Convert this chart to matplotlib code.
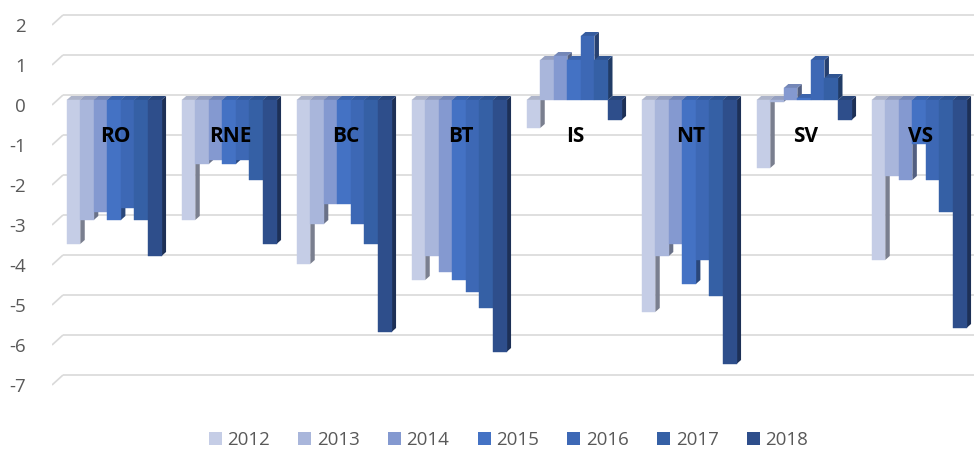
import matplotlib
matplotlib.use("Agg")
import matplotlib.pyplot as plt
from matplotlib.patches import Patch, Polygon
from matplotlib.colors import to_rgb
import numpy as np

plt.rcParams['font.family'] = ['Open Sans', 'DejaVu Sans']

# ---- data ----
regions = ["RO", "RNE", "BC", "BT", "IS", "NT", "SV", "VS"]
years = ["2012", "2013", "2014", "2015", "2016", "2017", "2018"]
v2012 = [-3.6, -3.0, -4.1, -4.5, -0.7, -5.3, -1.7, -4.0]
v2013 = [-3.0, -1.6, -3.1, -3.9, 1.0, -3.9, -0.05, -1.9]
v2014 = [-2.8, -1.5, -2.6, -4.3, 1.1, -3.6, 0.3, -2.0]
v2015 = [-3.0, -1.6, -2.6, -4.5, 1.0, -4.6, 0.05, -1.1]
v2016 = [-2.7, -1.5, -3.1, -4.8, 1.6, -4.0, 1.0, -2.0]
v2017 = [-3.0, -2.0, -3.6, -5.2, 1.0, -4.9, 0.55, -2.8]
v2018 = [-3.9, -3.6, -5.8, -6.3, -0.5, -6.6, -0.5, -5.7]
series = [v2012, v2013, v2014, v2015, v2016, v2017, v2018]
colors = ['#C5CDE6', '#A9B6DB', '#8499D0', '#4472C4', '#3D68B5', '#3560A5', '#2E4E8B']
yticks = [2, 1, 0, -1, -2, -3, -4, -5, -6, -7]

# ---- layout ----
W, H = 974, 450
fig = plt.figure(figsize=(W / 100, H / 100), dpi=100)
ax_left_px, ax_right_px = 52, 974
ax_top_px, ax_bot_px = 0, 404
ax = fig.add_axes([ax_left_px / W, 1 - ax_bot_px / H,
                   (ax_right_px - ax_left_px) / W, (ax_bot_px - ax_top_px) / H])
px_per_x = 13.55
px_per_y = 40.0
ax.set_xlim(0, (ax_right_px - ax_left_px) / px_per_x)
ax.set_ylim(-7.6, 2.5)
for s in ax.spines.values():
    s.set_visible(False)
ax.set_xticks([])

label_off = 5 / px_per_y     # tick labels sit below front plane
back_off = 5 / px_per_y      # back wall gridlines above front plane
slant = 11 / px_per_x

ax.set_yticks([t - label_off for t in yticks])
ax.set_yticklabels([str(t) for t in yticks], fontsize=13.5, color='#595959')
ax.tick_params(axis='y', length=0, pad=19)

xmax = ax.get_xlim()[1]
for t in yticks:
    ax.plot([0, slant], [t - label_off, t + back_off], color='#D9D9D9', lw=1.2,
            zorder=1, solid_capstyle='butt')
    ax.plot([slant, xmax], [t + back_off, t + back_off], color='#D9D9D9', lw=1.2,
            zorder=1, solid_capstyle='butt')

# 3D-ish bars
start0 = (66.7 - ax_left_px) / px_per_x
group_step = 115 / px_per_x
dx = 4.5 / px_per_x
dy = 4.0 / px_per_y
bw = 1.0

def shade(c, f):
    r, g, b = to_rgb(c)
    return (r * f, g * f, b * f)

for g, reg in enumerate(regions):
    gx = start0 + g * group_step
    for i, vals in enumerate(series):
        v = vals[g]
        x0 = gx + i * bw
        z = 2 + g * 1 + i * 0.1
        lo, hi = min(0, v), max(0, v)
        # side face
        side = Polygon([(x0 + bw, lo), (x0 + bw + dx, lo + dy),
                        (x0 + bw + dx, hi + dy), (x0 + bw, hi)],
                       closed=True, facecolor=shade(colors[i], 0.62),
                       edgecolor='none', zorder=z)
        ax.add_patch(side)
        # top face
        top = Polygon([(x0, hi), (x0 + dx, hi + dy), (x0 + bw + dx, hi + dy),
                       (x0 + bw, hi)], closed=True,
                      facecolor=shade(colors[i], 0.88), edgecolor='none', zorder=z)
        ax.add_patch(top)
        ax.bar(x0, v, width=bw, align='edge', color=colors[i], edgecolor=colors[i],
               linewidth=0.3, zorder=z + 0.05)
    ax.text(gx + 3.6 * bw, -0.9, reg, ha='center', va='center', fontsize=15,
            fontweight='bold', color='black', zorder=50)

handles = [Patch(facecolor=c, edgecolor='none') for c in colors]
fig.legend(handles, years, loc='center', bbox_to_anchor=(0.522, 1 - 440 / H),
           ncol=7, frameon=False, fontsize=13.5, handlelength=0.7, handleheight=0.7,
           handletextpad=0.3, columnspacing=1.5, labelcolor='#595959')

fig.savefig('out.png', dpi=100, facecolor='white')
